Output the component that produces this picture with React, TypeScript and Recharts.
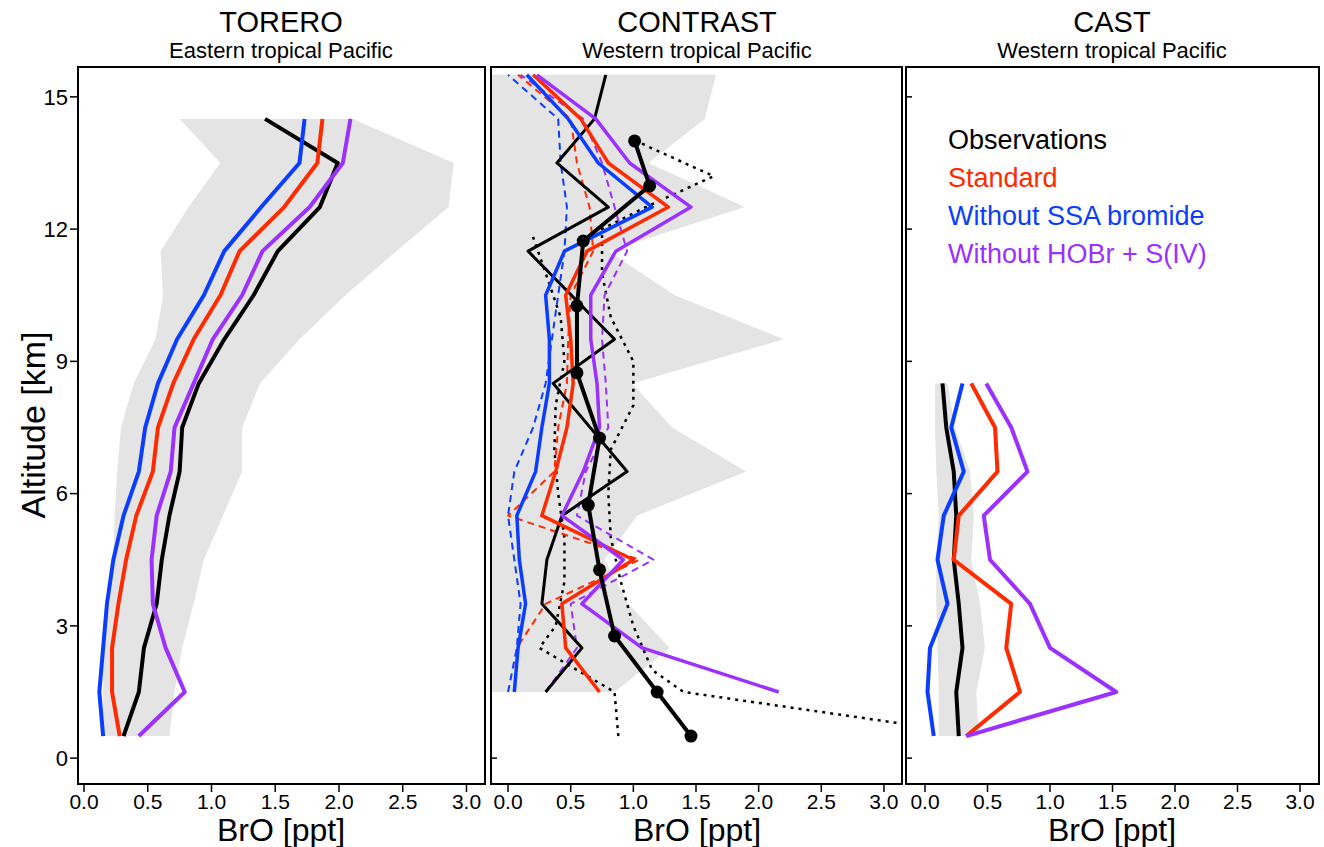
import React from "react";
import { ScatterChart, Scatter, XAxis, YAxis } from "recharts";

// BrO vertical profiles: TORERO / CONTRAST / CAST, observations vs model runs.

const RED = "#ff2a00";
const BLUE = "#0a3dff";
const PURPLE = "#9b30ff";
const GRAY = "#e4e4e4";
const FONT = "'Liberation Sans', Arial, sans-serif";

// ---- TORERO ----
const toreroAlt = [0.5, 1.5, 2.5, 3.5, 4.5, 5.5, 6.5, 7.5, 8.5, 9.5, 10.5, 11.5, 12.5, 13.5, 14.5];
const toreroObs = [0.31, 0.43, 0.47, 0.57, 0.61, 0.67, 0.75, 0.77, 0.9, 1.1, 1.33, 1.52, 1.85, 1.99, 1.42];
const toreroStd = [0.28, 0.22, 0.22, 0.27, 0.33, 0.41, 0.54, 0.58, 0.7, 0.86, 1.07, 1.22, 1.57, 1.83, 1.87];
const toreroNoSSA = [0.15, 0.12, 0.15, 0.18, 0.23, 0.31, 0.43, 0.48, 0.58, 0.73, 0.94, 1.1, 1.39, 1.69, 1.73];
const toreroNoHOBr = [0.43, 0.79, 0.64, 0.54, 0.53, 0.57, 0.68, 0.71, 0.86, 1.01, 1.24, 1.4, 1.77, 2.03, 2.09];
const toreroLow = [0.15, 0.15, 0.15, 0.2, 0.23, 0.24, 0.26, 0.29, 0.39, 0.56, 0.62, 0.6, 0.82, 1.07, 0.75];
const toreroHigh = [0.67, 0.71, 0.77, 0.86, 0.94, 1.09, 1.24, 1.24, 1.38, 1.69, 2.05, 2.45, 2.86, 2.9, 2.11];

// ---- CONTRAST ----
const conAlt = [1.5, 2.5, 3.5, 4.5, 5.5, 6.5, 7.5, 8.5, 9.5, 10.5, 11.5, 12.5, 13.5, 14.5, 15.5];
const conStd = [0.73, 0.46, 0.43, 1.0, 0.27, 0.38, 0.47, 0.52, 0.5, 0.46, 0.63, 1.28, 0.8, 0.58, 0.2];
const conNoSSA = [0.05, 0.08, 0.14, 0.09, 0.07, 0.22, 0.27, 0.33, 0.33, 0.3, 0.45, 1.15, 0.72, 0.48, 0.15];
const conNoHOBr = [2.16, 1.07, 0.59, 0.92, 0.43, 0.6, 0.73, 0.71, 0.66, 0.66, 0.86, 1.46, 0.97, 0.7, 0.23];
const conStdDash = [0.05, 0.07, 0.3, 1.05, 0.0, 0.37, 0.4, 0.47, 0.48, 0.5, 0.68, 0.65, 0.55, 0.5, 0.08];
const conNoSSADash = [0.0, 0.07, 0.1, 0.05, 0.0, 0.05, 0.2, 0.3, 0.35, 0.4, 0.45, 0.47, 0.42, 0.4, 0.0];
const conNoHOBrDash = [0.3, 0.55, 0.5, 1.16, 0.55, 0.62, 0.8, 0.78, 0.75, 0.77, 0.95, 0.85, 0.75, 0.6, 0.1];
const conObsThinAlt = [1.5, 2.5, 3.5, 4.5, 5.5, 6.5, 8.5, 9.5, 11.5, 12.5, 13.5, 14.5, 15.5];
const conObsThin = [0.3, 0.59, 0.27, 0.31, 0.43, 0.95, 0.36, 0.85, 0.16, 0.8, 0.39, 0.69, 0.78];
const conObsDotAlt = [0.5, 1.5, 2.77, 4.27, 5.74, 7.26, 8.74, 10.26, 11.73, 12.98, 14.0];
const conObsDot = [1.46, 1.19, 0.85, 0.73, 0.64, 0.73, 0.55, 0.55, 0.6, 1.13, 1.01];
const conDotRightAlt = [0.8, 1.5, 2, 3, 4, 5, 6, 7, 8, 9, 10, 11, 12, 12.5, 13.2, 14];
const conDotRight = [3.1, 1.4, 1.15, 1.0, 0.9, 0.82, 0.8, 0.82, 1.0, 1.0, 0.82, 0.75, 0.75, 1.1, 1.64, 1.02];
const conDotLeftAlt = [0.5, 1.5, 2, 2.5, 3, 4, 5, 6, 7, 8, 9, 10, 11, 11.9];
const conDotLeft = [0.88, 0.85, 0.55, 0.25, 0.38, 0.45, 0.45, 0.4, 0.37, 0.38, 0.45, 0.42, 0.3, 0.19];
const conBandAlt = [1.5, 2.5, 3.5, 4.5, 5.5, 6.5, 7.5, 8.5, 9.5, 10.5, 11.5, 12.5, 13.5, 14.5, 15.5];
const conLow = [-0.14, -0.14, -0.14, -0.14, -0.14, -0.14, -0.14, -0.14, -0.14, -0.14, -0.14, -0.14, -0.14, -0.14, -0.14];
const conHigh = [0.85, 1.29, 0.96, 0.77, 1.03, 1.9, 1.31, 0.99, 2.2, 1.33, 0.8, 1.89, 1.12, 1.57, 1.66];

// ---- CAST ----
const castAlt = [0.5, 1.5, 2.5, 3.5, 4.5, 5.5, 6.5, 7.5, 8.5];
const castObs = [0.27, 0.25, 0.3, 0.27, 0.23, 0.25, 0.23, 0.17, 0.14];
const castStd = [0.33, 0.76, 0.65, 0.69, 0.23, 0.27, 0.58, 0.56, 0.37];
const castNoSSA = [0.07, 0.02, 0.04, 0.18, 0.1, 0.15, 0.31, 0.21, 0.3];
const castNoHOBr = [0.33, 1.53, 1.0, 0.84, 0.52, 0.47, 0.82, 0.69, 0.49];
const castLow = [0.11, 0.11, 0.1, 0.09, 0.09, 0.11, 0.09, 0.08, 0.08];
const castHigh = [0.43, 0.41, 0.48, 0.44, 0.37, 0.39, 0.36, 0.24, 0.18];

const xTicks = [0, 0.5, 1, 1.5, 2, 2.5, 3];
const yTicks = [0, 3, 6, 9, 12, 15];
const titles = [
  ["TORERO", "Eastern tropical Pacific"],
  ["CONTRAST", "Western tropical Pacific"],
  ["CAST", "Western tropical Pacific"],
];
const legend = [
  ["Observations", "#000"],
  ["Standard", RED],
  ["Without SSA bromide", BLUE],
  ["Without HOBr + S(IV)", PURPLE],
];

const pts = (alt: number[], v: number[]) => alt.map((a, i) => ({ x: v[i], y: a }));
const band = (alt: number[], lo: number[], hi: number[]) =>
  pts(alt, lo).concat(pts(alt, hi).reverse());

const noShape = () => <g />;

function profile(key: string, data: { x: number; y: number }[], stroke: string, width = 4, dash?: string) {
  return (
    <Scatter
      key={key}
      data={data}
      isAnimationActive={false}
      shape={noShape}
      line={{ stroke, strokeWidth: width, strokeDasharray: dash, strokeLinejoin: "round" }}
    />
  );
}

function shade(key: string, data: { x: number; y: number }[]) {
  return (
    <Scatter
      key={key}
      data={data}
      isAnimationActive={false}
      shape={noShape}
      line={(p: any) => (
        <polygon points={p.points.map((q: any) => `${q.x},${q.y}`).join(" ")} fill={GRAY} stroke="none" />
      )}
    />
  );
}

type PanelProps = {
  left: number;
  right: number;
  xDomain: [number, number];
  first?: boolean;
  children: React.ReactNode;
};

const TOP = 66;
const BOTTOM = 785;
const AX = 40;

function Panel({ left, right, xDomain, first, children }: PanelProps) {
  const w = right - left + 2 * AX;
  return (
    <div style={{ position: "absolute", left: left - AX, top: 0 }}>
      <ScatterChart
        width={w}
        height={847}
        margin={{ left: first ? 0 : AX, right: AX, top: TOP, bottom: 847 - BOTTOM - AX }}
        style={{ overflow: "visible" }}
      >
        <XAxis
          type="number"
          dataKey="x"
          domain={xDomain}
          ticks={xTicks}
          allowDataOverflow
          height={AX}
          tickSize={7}
          axisLine={false}
          tickLine={{ stroke: "#000", strokeWidth: 1.5 }}
          tickFormatter={(v: number) => v.toFixed(1)}
          tick={{ fontSize: 21, fill: "#000", fontFamily: FONT, dy: 0 }}
        />
        <YAxis
          type="number"
          dataKey="y"
          domain={[-0.61, 15.7]}
          ticks={yTicks}
          allowDataOverflow
          width={AX}
          tickSize={7}
          mirror={!first}
          axisLine={false}
          tickLine={{ stroke: "#000", strokeWidth: 1.5 }}
          tick={first ? { fontSize: 22, fill: "#000", fontFamily: FONT } : { fill: "none" }}
        />
        {children}
      </ScatterChart>
      <div
        style={{
          position: "absolute",
          left: AX,
          top: TOP,
          width: right - left,
          height: BOTTOM - TOP,
          border: "2px solid #000",
          boxSizing: "border-box",
        }}
      />
    </div>
  );
}

const centers = [281, 697, 1112];

export default function App() {
  return (
    <div style={{ position: "absolute", left: 0, top: 0, width: 1324, height: 847, background: "#fff", fontFamily: FONT }}>
      {titles.map(([t, s], i) => (
        <div key={t} style={{ position: "absolute", left: centers[i] - 200, width: 400, top: 6, textAlign: "center" }}>
          <div style={{ fontSize: 29, lineHeight: "32px" }}>{t}</div>
          <div style={{ fontSize: 22, lineHeight: "26px" }}>{s}</div>
        </div>
      ))}
      <div
        style={{
          position: "absolute",
          left: 33,
          top: 425,
          fontSize: 34,
          transform: "translate(-50%, -50%) rotate(-90deg)",
          whiteSpace: "nowrap",
        }}
      >
        Altitude [km]
      </div>
      {centers.map((c) => (
        <div
          key={c}
          style={{ position: "absolute", left: c - 100, width: 200, top: 813, lineHeight: "34px", textAlign: "center", fontSize: 32 }}
        >
          BrO [ppt]
        </div>
      ))}

      <Panel left={77} right={486} xDomain={[-0.055, 3.153]} first>
        {shade("band", band(toreroAlt, toreroLow, toreroHigh))}
        {profile("obs", pts(toreroAlt, toreroObs), "#000")}
        {profile("std", pts(toreroAlt, toreroStd), RED)}
        {profile("ssa", pts(toreroAlt, toreroNoSSA), BLUE)}
        {profile("hobr", pts(toreroAlt, toreroNoHOBr), PURPLE)}
      </Panel>

      <Panel left={490} right={903} xDomain={[-0.144, 3.152]}>
        {shade("band", band(conBandAlt, conLow, conHigh))}
        {profile("dl", pts(conDotLeftAlt, conDotLeft), "#000", 2.5, "3 5")}
        {profile("dr", pts(conDotRightAlt, conDotRight), "#000", 2.5, "3 5")}
        {profile("ssad", pts(conAlt, conNoSSADash), BLUE, 2, "7 5")}
        {profile("stdd", pts(conAlt, conStdDash), RED, 2, "7 5")}
        {profile("hobrd", pts(conAlt, conNoHOBrDash), PURPLE, 2, "7 5")}
        {profile("thin", pts(conObsThinAlt, conObsThin), "#000", 3)}
        {profile("ssa", pts(conAlt, conNoSSA), BLUE, 3.5)}
        {profile("std", pts(conAlt, conStd), RED, 3.5)}
        {profile("hobr", pts(conAlt, conNoHOBr), PURPLE, 3.5)}
        <Scatter
          key="obsdot"
          data={pts(conObsDotAlt, conObsDot)}
          isAnimationActive={false}
          fill="#000"
          line={{ stroke: "#000", strokeWidth: 4 }}
          shape={(p: any) => <circle cx={p.cx} cy={p.cy} r={6.5} fill="#000" />}
        />
      </Panel>

      <Panel left={905} right={1320} xDomain={[-0.16, 3.16]}>
        {shade("band", band(castAlt, castLow, castHigh))}
        {profile("obs", pts(castAlt, castObs), "#000")}
        {profile("ssa", pts(castAlt, castNoSSA), BLUE)}
        {profile("std", pts(castAlt, castStd), RED)}
        {profile("hobr", pts(castAlt, castNoHOBr), PURPLE)}
      </Panel>

      {legend.map(([t, c], i) => (
        <div key={t} style={{ position: "absolute", left: 948, top: 125 + i * 38, fontSize: 27, color: c, whiteSpace: "nowrap" }}>
          {t}
        </div>
      ))}
    </div>
  );
}
